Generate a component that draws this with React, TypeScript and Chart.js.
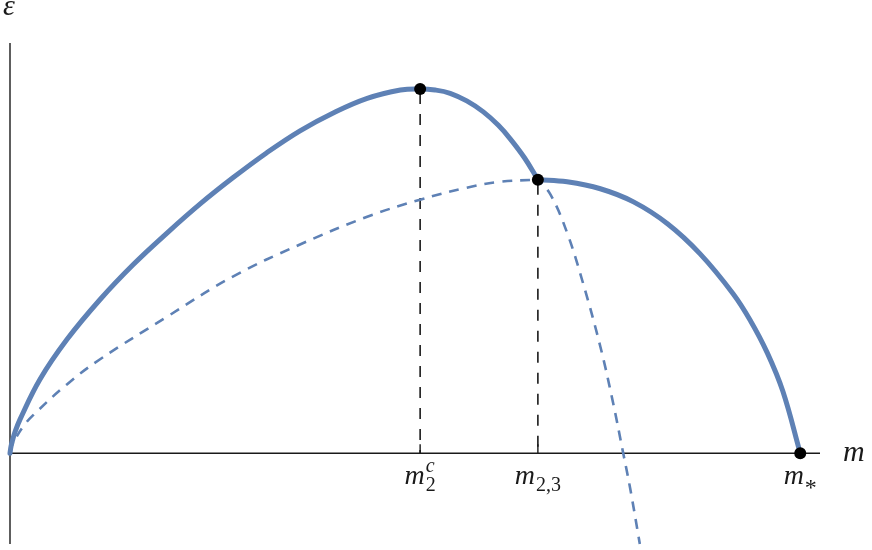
import React, { useEffect, useRef } from "react";
import { Chart, registerables } from "chart.js";

Chart.register(...registerables);

// ---- key values (m normalised so that m_* = 1, ε normalised so that ε(m_2^c) = 1)
const M2C = 0.519;
const EPS_PEAK = 1.0;
const M23 = 0.668;
const EPS23 = 0.751;
const MSTAR = 1.0;

const X_MIN = 0;
const X_MAX = 1.025;
const Y_MIN = -0.249;
const Y_MAX = 1.126;

// solid curve, first branch (origin -> m_{2,3})
const solidLeftM = [0, 0.00127, 0.0032, 0.0063, 0.0127, 0.038, 0.072, 0.114, 0.156, 0.199, 0.241, 0.282, 0.325, 0.367, 0.409, 0.452, 0.494, M2C, 0.538, 0.557, 0.578, 0.599, 0.618, 0.633, 0.651, M23];
const solidLeftEps = [0, 0.0186, 0.0354, 0.058, 0.093, 0.203, 0.312, 0.422, 0.518, 0.605, 0.685, 0.756, 0.825, 0.885, 0.934, 0.974, 0.997, EPS_PEAK, 0.997, 0.988, 0.967, 0.937, 0.900, 0.863, 0.811, EPS23];

// solid curve, second branch (m_{2,3} -> m_*)
const solidRightM = [M23, 0.705, 0.747, 0.789, 0.832, 0.873, 0.915, 0.937, 0.958, 0.978, MSTAR];
const solidRightEps = [EPS23, 0.745, 0.726, 0.690, 0.630, 0.548, 0.438, 0.364, 0.277, 0.170, 0];

// dashed curve, rising branch (origin -> m_{2,3})
const dashedLeftM = [0, 0.0025, 0.0063, 0.0165, 0.029, 0.072, 0.114, 0.199, 0.282, 0.367, 0.452, M2C, 0.578, 0.620, M23];
const dashedLeftEps = [0, 0.022, 0.038, 0.073, 0.104, 0.189, 0.258, 0.375, 0.485, 0.573, 0.649, 0.696, 0.729, 0.745, EPS23];

// dashed curve, falling branch (m_{2,3} -> below the axis)
const dashedRightM = [M23, 0.684, 0.705, 0.725, 0.747, 0.763, 0.776, 0.785, 0.797];
const dashedRightEps = [EPS23, 0.710, 0.605, 0.468, 0.293, 0.140, 0.0, -0.099, -0.249];

// marked points
const markerM = [M2C, M23, MSTAR];
const markerEps = [EPS_PEAK, EPS23, 0];

// tick labels: base / subscript / superscript
const tickAt = [M2C, M23, MSTAR];
const tickBase = ["m", "m", "m"];
const tickSub = ["2", "2,3", "*"];
const tickSup = ["c", "", ""];
const tickMarks = [M2C, M23];

const X_TITLE = "m";
const Y_TITLE = "ε";

const BLUE = "#5E81B5";
const INK = "#1a1a1a";

const zip = (xs: number[], ys: number[]) => xs.map((x, i) => ({ x, y: ys[i] }));

const axesPlugin = {
  id: "axesPlugin",
  beforeDatasetsDraw(chart: any) {
    const { ctx, chartArea, scales } = chart;
    const x0 = scales.x.getPixelForValue(0);
    const y0 = scales.y.getPixelForValue(0);
    ctx.save();
    ctx.strokeStyle = INK;
    ctx.lineWidth = 1.4;
    ctx.beginPath();
    ctx.moveTo(chartArea.left, y0);
    ctx.lineTo(chartArea.right, y0);
    ctx.moveTo(x0, chartArea.top);
    ctx.lineTo(x0, chartArea.bottom);
    tickMarks.forEach((m) => {
      const px = scales.x.getPixelForValue(m);
      ctx.moveTo(px, y0);
      ctx.lineTo(px, y0 - 9);
    });
    ctx.stroke();
    ctx.restore();
  },
  afterDraw(chart: any) {
    const { ctx, chartArea, scales } = chart;
    const y0 = scales.y.getPixelForValue(0);
    ctx.save();
    ctx.fillStyle = INK;
    ctx.textBaseline = "alphabetic";
    ctx.textAlign = "left";
    const baseFont = 'italic 28px "Liberation Serif"';
    const subFont = '20px "Liberation Serif"';
    const supFont = 'italic 20px "Liberation Serif"';
    const starFont = '24px "Liberation Serif"';
    tickAt.forEach((m, i) => {
      const cx = scales.x.getPixelForValue(m);
      ctx.font = baseFont;
      const wb = ctx.measureText(tickBase[i]).width;
      const isStar = tickSub[i] === "*";
      ctx.font = isStar ? starFont : subFont;
      const ws = ctx.measureText(tickSub[i]).width;
      ctx.font = supFont;
      const wsup = tickSup[i] ? ctx.measureText(tickSup[i]).width : 0;
      const total = wb + 1 + Math.max(ws, wsup);
      const sx = cx - total / 2;
      ctx.font = baseFont;
      ctx.fillText(tickBase[i], sx, y0 + 31);
      ctx.font = isStar ? starFont : subFont;
      ctx.fillText(tickSub[i], sx + wb + 1, y0 + (isStar ? 42 : 38));
      if (tickSup[i]) {
        ctx.font = supFont;
        ctx.fillText(tickSup[i], sx + wb + 1, y0 + 19);
      }
    });
    ctx.font = 'italic 30px "Liberation Serif"';
    ctx.fillText(X_TITLE, chartArea.right + 23, y0 + 8);
    ctx.fillText(Y_TITLE, 3, chartArea.top - 28);
    ctx.restore();
  },
};

const curve = (label: string, xs: number[], ys: number[], extra: any) => ({
  label,
  data: zip(xs, ys),
  showLine: true,
  borderColor: BLUE,
  pointRadius: 0,
  tension: 0.4,
  clip: false,
  ...extra,
});

export default function App() {
  const ref = useRef<HTMLCanvasElement | null>(null);

  useEffect(() => {
    if (!ref.current) return;
    const chart = new Chart(ref.current, {
      type: "scatter",
      data: {
        datasets: [
          {
            label: "points",
            data: zip(markerM, markerEps),
            showLine: false,
            pointRadius: 6,
            pointBackgroundColor: "#000",
            pointBorderWidth: 0,
            order: 0,
            clip: false,
          } as any,
          curve("solid-left", solidLeftM, solidLeftEps, { borderWidth: 5, borderCapStyle: "round", order: 1 }) as any,
          curve("solid-right", solidRightM, solidRightEps, { borderWidth: 5, borderCapStyle: "round", order: 1 }) as any,
          curve("dashed-left", dashedLeftM, dashedLeftEps, { borderWidth: 2.6, borderDash: [10, 8], order: 2 }) as any,
          curve("dashed-right", dashedRightM, dashedRightEps, { borderWidth: 2.6, borderDash: [10, 8], borderDashOffset: 4, order: 2 }) as any,
          {
            label: "drop-m2c",
            data: [
              { x: M2C, y: EPS_PEAK },
              { x: M2C, y: 0 },
            ],
            showLine: true,
            borderColor: INK,
            borderWidth: 1.6,
            borderDash: [11, 10],
            borderDashOffset: -4,
            pointRadius: 0,
            tension: 0,
            order: 3,
          } as any,
          {
            label: "drop-m23",
            data: [
              { x: M23, y: EPS23 },
              { x: M23, y: 0 },
            ],
            showLine: true,
            borderColor: INK,
            borderWidth: 1.6,
            borderDash: [11, 10],
            borderDashOffset: -4,
            pointRadius: 0,
            tension: 0,
            order: 3,
          } as any,
        ],
      },
      options: {
        animation: false,
        responsive: false,
        events: [],
        layout: { padding: { left: 10, right: 52, top: 43, bottom: 5 } },
        plugins: {
          legend: { display: false },
          tooltip: { enabled: false },
        },
        scales: {
          x: { type: "linear", min: X_MIN, max: X_MAX, display: false },
          y: { type: "linear", min: Y_MIN, max: Y_MAX, display: false },
        },
      },
      plugins: [axesPlugin],
    });
    return () => chart.destroy();
  }, []);

  return (
    <div style={{ position: "absolute", left: 0, top: 0, width: 872, height: 550, background: "#fff" }}>
      <canvas ref={ref} width={872} height={550} style={{ display: "block" }} />
    </div>
  );
}
